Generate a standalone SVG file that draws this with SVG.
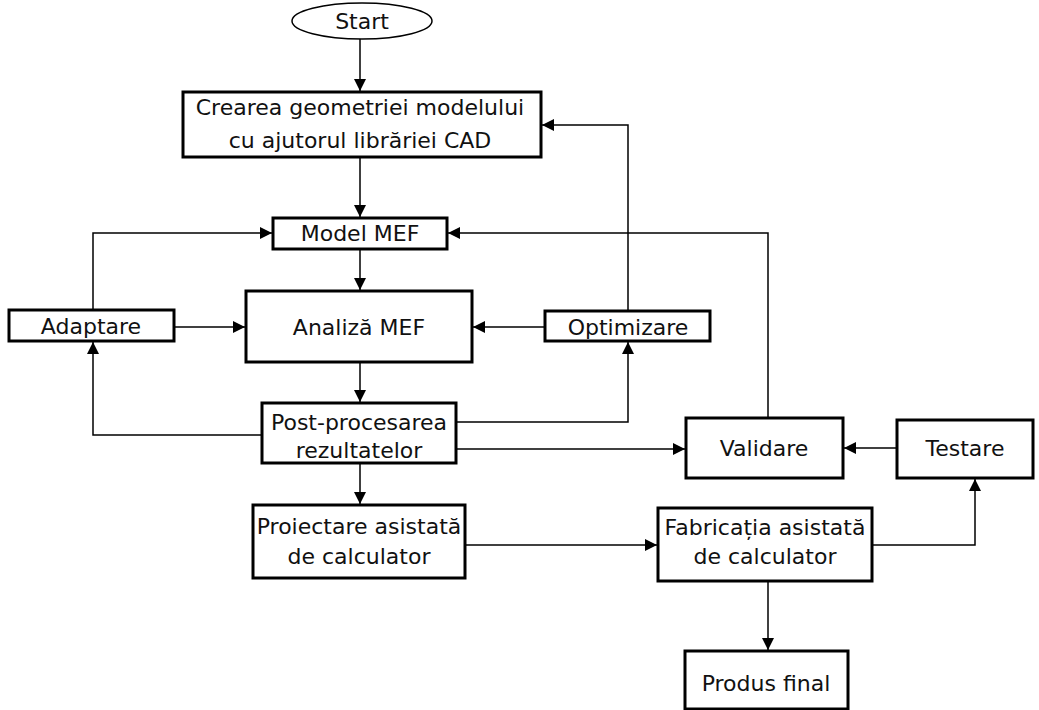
<svg xmlns="http://www.w3.org/2000/svg" width="1039" height="710" viewBox="0 0 1039 710">
<defs>
<marker id="ah" viewBox="0 0 12 12" refX="12" refY="6" markerWidth="12" markerHeight="12" markerUnits="userSpaceOnUse" orient="auto">
<path d="M0,0 L12,6 L0,12 Z" fill="#000"/>
</marker>
<style>
.box{fill:#fff;stroke:#000;stroke-width:3}
.ell{fill:#fff;stroke:#000;stroke-width:1.5}
.t{font-family:"DejaVu Sans","Verdana",sans-serif;font-size:22px;fill:#111;text-anchor:middle}
.c{fill:none;stroke:#000;stroke-width:1.5;marker-end:url(#ah)}
</style>
</defs>
<rect width="1039" height="710" fill="#fff"/>
<g id="connectors">
<path class="c" d="M360,39 V91"/>
<path class="c" d="M360,158 V217"/>
<path class="c" d="M360,250 V290"/>
<path class="c" d="M360,363 V402"/>
<path class="c" d="M360,464 V504"/>
<path class="c" d="M93,309 V233 H272"/>
<path class="c" d="M175,327 H245"/>
<path class="c" d="M544,327 H473"/>
<path class="c" d="M628,310 V125 H542"/>
<path class="c" d="M261,435 H93 V342"/>
<path class="c" d="M457,422 H628 V342"/>
<path class="c" d="M457,449 H685"/>
<path class="c" d="M768,417 V233 H448"/>
<path class="c" d="M896,448 H844"/>
<path class="c" d="M466,545 H657"/>
<path class="c" d="M873,545 H975 V479"/>
<path class="c" d="M768,582 V650"/>
</g>
<g id="start"><ellipse class="ell" cx="362" cy="21" rx="70" ry="18"/><text class="t" x="362" y="29">Start</text></g>
<g id="crearea"><rect class="box" x="183" y="92" width="358" height="65"/><text class="t" x="360" y="115">Crearea geometriei modelului</text><text class="t" x="360" y="148">cu ajutorul librăriei CAD</text></g>
<g id="model"><rect class="box" x="273" y="218" width="174" height="31"/><text class="t" x="360" y="241">Model MEF</text></g>
<g id="analiza"><rect class="box" x="246" y="291" width="226" height="71"/><text class="t" x="359" y="335">Analiză MEF</text></g>
<g id="adaptare"><rect class="box" x="9" y="310" width="165" height="31"/><text class="t" x="91" y="334">Adaptare</text></g>
<g id="optimizare"><rect class="box" x="545" y="311" width="165" height="30"/><text class="t" x="628" y="335">Optimizare</text></g>
<g id="post"><rect class="box" x="262" y="403" width="194" height="60"/><text class="t" x="359" y="430">Post-procesarea</text><text class="t" x="359" y="458">rezultatelor</text></g>
<g id="validare"><rect class="box" x="686" y="418" width="157" height="60"/><text class="t" x="764" y="456">Validare</text></g>
<g id="testare"><rect class="box" x="897" y="420" width="136" height="58"/><text class="t" x="965" y="456">Testare</text></g>
<g id="proiectare"><rect class="box" x="253" y="505" width="212" height="73"/><text class="t" x="359" y="534">Proiectare asistată</text><text class="t" x="359" y="564">de calculator</text></g>
<g id="fabricatia"><rect class="box" x="658" y="508" width="214" height="73"/><text class="t" x="765" y="535">Fabricația asistată</text><text class="t" x="765" y="564">de calculator</text></g>
<g id="produs"><rect class="box" x="685" y="651" width="163" height="58"/><text class="t" x="766" y="691">Produs final</text></g>
</svg>
